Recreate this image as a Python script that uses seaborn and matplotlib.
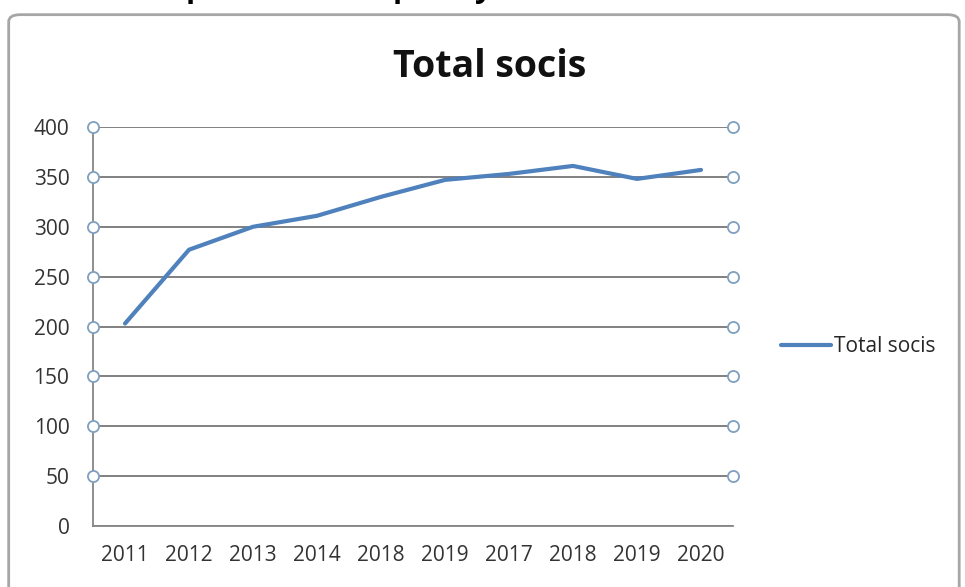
import numpy as np
import pandas as pd
import matplotlib
matplotlib.use('Agg')
import matplotlib.pyplot as plt
import seaborn as sns
from matplotlib.patches import FancyBboxPatch

# data (labels as shown, duplicates included)
years = ['2011', '2012', '2013', '2014', '2018', '2019', '2017', '2018', '2019', '2020']
socis = [203, 277, 300, 311, 330, 347, 353, 361, 348, 357]
y_ticks = [0, 50, 100, 150, 200, 250, 300, 350, 400]

df = pd.DataFrame({'pos': np.arange(len(years)), 'socis': socis})

sns.set_style('white')
plt.rcParams['font.family'] = ['Open Sans', 'DejaVu Sans']

fig = plt.figure(figsize=(9.65, 5.87), dpi=100)
ax = fig.add_axes([0.0964, 0.1039, 0.6632, 0.6797])

# rounded chart frame
frame = FancyBboxPatch((0.009, -0.05), 0.985, 1.025, boxstyle='round,pad=0,rounding_size=0.012',
                       transform=fig.transFigure, facecolor='none', edgecolor='#a6a6a6',
                       linewidth=2.0, zorder=0)
fig.patches.append(frame)

# heading of the page above, cut off by the screenshot (only descenders show)
for cx, ch in [(0.202, 'p'), (0.417, 'p'), (0.500, 'y')]:
    fig.text(cx, 1.0 + 3.5 / 587, ch, fontsize=22, fontweight='bold', color='black',
             ha='center', va='baseline')

sns.lineplot(data=df, x='pos', y='socis', ax=ax, color='#4f81bd', linewidth=3.0,
             label='Total socis', zorder=3)

ax.set_xlim(-0.5, len(years) - 0.5)
ax.set_ylim(0, 400)
ax.set_yticks(y_ticks)
ax.set_yticklabels([str(v) for v in y_ticks], fontsize=15, color='#333333')
ax.yaxis.grid(True, color='#808080', linewidth=1.4)
ax.set_axisbelow(True)

ax.set_xticks(np.arange(-0.5, len(years), 1.0))
ax.set_xticklabels([])
ax.set_xticks(np.arange(len(years)), minor=True)
ax.set_xticklabels(years, minor=True, fontsize=15, color='#333333')
ax.tick_params(axis='x', which='major', direction='out', length=6, color='#868686', width=1.2)
ax.tick_params(axis='x', which='minor', length=0, pad=14)
ax.tick_params(axis='y', direction='out', length=5, color='#868686', width=1.2, pad=12)
ax.set_xlabel('')
ax.set_ylabel('')

for side in ['top', 'right']:
    ax.spines[side].set_visible(False)
for side in ['left', 'bottom']:
    ax.spines[side].set_color('#868686')
    ax.spines[side].set_linewidth(1.3)

# selection handles at gridline ends
handles_y = y_ticks[1:]
for xe in [-0.5, len(years) - 0.5]:
    ax.plot([xe] * len(handles_y), handles_y, 'o', markersize=8, markerfacecolor='white',
            markeredgecolor='#7f9fbf', markeredgewidth=1.3, clip_on=False, zorder=4)

ax.set_title('Total socis', fontsize=27, fontweight='bold', pad=36, x=0.62, color='#111111')

leg = ax.legend(loc='center left', bbox_to_anchor=(1.045, 0.45), frameon=False,
                fontsize=15, handlelength=2.4, handletextpad=0.15)

fig.savefig('out.png', dpi=100)
